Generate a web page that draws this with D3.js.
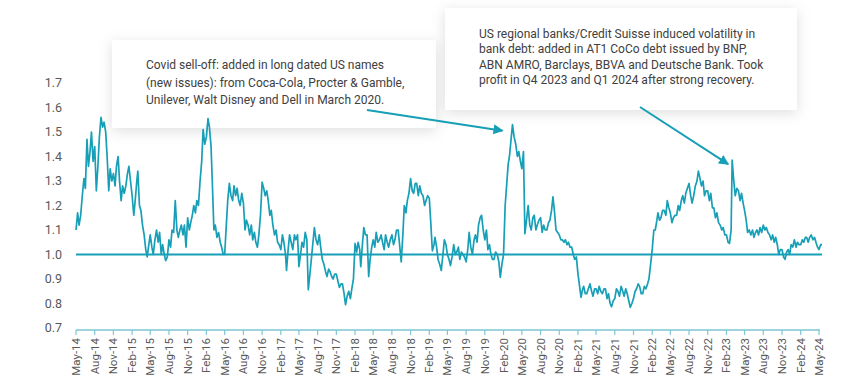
<!DOCTYPE html>
<html>
<head>
<meta charset="utf-8">
<script src="https://cdn.jsdelivr.net/npm/d3@7"></script>
<style>
  body { margin: 0; background: #fff; }
  #chart { width: 846px; height: 388px; }
  text { font-family: Roboto, "Noto Sans", sans-serif; }
</style>
</head>
<body>
<div id="chart"></div>
<script>
// weekly-ish readings (4 per month), May 2014 .. May 2024
const values = [
  1.10, 1.17, 1.12, 1.16, 1.24, 1.31, 1.27, 1.47, 1.36, 1.42, 1.50, 1.38, 1.44, 1.26, 1.35, 1.48, 1.56, 1.52, 1.54, 1.50, 1.40, 1.26, 1.35, 1.30,
  1.33, 1.28, 1.36, 1.40, 1.30, 1.22, 1.28, 1.25, 1.28, 1.33, 1.36, 1.30, 1.24, 1.16, 1.22, 1.30, 1.34, 1.20, 1.18, 1.12, 1.08, 1.02, 0.99, 1.04,
  1.08, 1.03, 1.00, 1.06, 1.10, 1.05, 1.09, 1.00, 1.04, 1.00, 0.975, 0.99, 1.06, 1.03, 1.10, 1.09, 1.22, 1.10, 1.07, 1.10, 1.12, 1.08, 1.12, 1.03,
  1.15, 1.10, 1.13, 1.16, 1.20, 1.17, 1.22, 1.20, 1.30, 1.38, 1.51, 1.45, 1.48, 1.555, 1.52, 1.44, 1.30, 1.10, 1.12, 1.07, 1.09, 1.05, 1.03, 1.00,
  1.00, 1.12, 1.22, 1.29, 1.24, 1.22, 1.28, 1.24, 1.27, 1.22, 1.20, 1.25, 1.21, 1.10, 1.14, 1.12, 1.08, 1.12, 1.06, 1.09, 1.05, 1.03, 1.08, 1.16,
  1.295, 1.27, 1.24, 1.26, 1.22, 1.16, 1.18, 1.12, 1.08, 1.10, 1.05, 1.04, 1.02, 1.08, 1.05, 1.00, 0.935, 1.02, 1.08, 1.05, 1.02, 1.08, 1.06, 1.08,
  0.95, 1.00, 1.05, 1.03, 1.09, 1.06, 0.856, 0.92, 0.98, 1.05, 1.11, 1.06, 1.04, 1.08, 1.03, 0.98, 0.96, 0.93, 0.91, 0.94, 0.93, 0.91, 0.90, 0.92,
  0.92, 0.89, 0.866, 0.88, 0.88, 0.84, 0.795, 0.83, 0.85, 0.82, 0.86, 0.90, 1.045, 1.01, 1.05, 1.02, 0.95, 1.04, 1.11, 1.08, 1.08, 0.91, 0.98, 1.03,
  1.06, 1.03, 1.09, 1.05, 1.06, 1.08, 1.05, 1.02, 1.08, 1.05, 1.03, 1.06, 1.08, 1.04, 1.06, 1.10, 1.10, 1.03, 0.97, 1.08, 1.20, 1.17, 1.22, 1.25,
  1.31, 1.26, 1.25, 1.29, 1.29, 1.24, 1.28, 1.25, 1.24, 1.20, 1.22, 1.24, 1.23, 1.12, 1.015, 1.04, 1.07, 1.03, 0.98, 0.96, 0.935, 1.00, 1.06, 1.04,
  1.00, 0.98, 0.955, 0.99, 1.04, 1.00, 1.01, 1.03, 0.98, 1.01, 1.00, 0.99, 0.97, 1.02, 1.09, 1.03, 1.00, 1.06, 1.08, 1.05, 1.12, 1.15, 1.16, 1.10,
  1.06, 1.10, 1.02, 1.04, 1.00, 0.98, 0.98, 1.01, 1.00, 0.97, 0.907, 0.96, 1.00, 1.20, 1.28, 1.37, 1.40, 1.47, 1.53, 1.48, 1.45, 1.40, 1.42, 1.38,
  1.35, 1.42, 1.085, 1.14, 1.20, 1.12, 1.10, 1.15, 1.16, 1.10, 1.12, 1.14, 1.15, 1.09, 1.12, 1.10, 1.10, 1.13, 1.14, 1.18, 1.235, 1.17, 1.10, 1.09,
  1.08, 1.06, 1.06, 1.05, 1.06, 1.04, 1.05, 1.03, 1.03, 1.00, 0.98, 0.99, 0.92, 0.87, 0.825, 0.86, 0.87, 0.84, 0.84, 0.86, 0.88, 0.85, 0.83, 0.86,
  0.86, 0.84, 0.87, 0.85, 0.84, 0.86, 0.86, 0.82, 0.84, 0.80, 0.787, 0.81, 0.82, 0.86, 0.85, 0.83, 0.87, 0.85, 0.83, 0.86, 0.84, 0.81, 0.784, 0.80,
  0.82, 0.85, 0.86, 0.88, 0.87, 0.84, 0.84, 0.87, 0.86, 0.88, 0.90, 0.96, 1.02, 1.10, 1.10, 1.14, 1.17, 1.14, 1.15, 1.18, 1.18, 1.16, 1.22, 1.19,
  1.17, 1.13, 1.15, 1.16, 1.16, 1.20, 1.18, 1.22, 1.24, 1.21, 1.25, 1.27, 1.29, 1.24, 1.21, 1.24, 1.28, 1.30, 1.34, 1.31, 1.28, 1.30, 1.24, 1.26,
  1.26, 1.22, 1.25, 1.19, 1.19, 1.15, 1.17, 1.13, 1.12, 1.10, 1.11, 1.08, 1.08, 1.05, 1.045, 1.10, 1.385, 1.30, 1.24, 1.27, 1.26, 1.22, 1.25, 1.21,
  1.18, 1.14, 1.09, 1.10, 1.08, 1.10, 1.07, 1.09, 1.10, 1.08, 1.11, 1.09, 1.12, 1.10, 1.11, 1.09, 1.08, 1.06, 1.08, 1.05, 1.07, 1.04, 1.00, 1.02,
  1.02, 0.99, 0.98, 1.01, 1.02, 1.00, 1.04, 1.03, 1.06, 1.03, 1.05, 1.04, 1.04, 1.06, 1.05, 1.07, 1.07, 1.05, 1.07, 1.08, 1.06, 1.07, 1.05, 1.03,
  1.02, 1.04, 1.04
];
const startDate = new Date(2014, 4, 1);
const endDate = new Date(2024, 4, 1);
const dates = values.map((v, i) =>
  d3.timeDay.offset(d3.timeMonth.offset(startDate, Math.floor(i / 4)), Math.round((i % 4) * 7.6)));

const yTicks = [0.7, 0.8, 0.9, 1.0, 1.1, 1.2, 1.3, 1.4, 1.5, 1.6, 1.7];
const xTicks = d3.timeMonth.range(startDate, d3.timeDay.offset(endDate, 1), 3);

const notes = [
  { lines: ["Covid sell-off: added in long dated US names",
            "(new issues): from Coca-Cola, Procter & Gamble,",
            "Unilever, Walt Disney and Dell in March 2020."],
    peak: new Date(2020, 2, 1) },
  { lines: ["US regional banks/Credit Suisse induced volatility in",
            "bank debt: added in AT1 CoCo debt issued by BNP,",
            "ABN AMRO, Barclays, BBVA and Deutsche Bank. Took",
            "profit in Q4 2023 and Q1 2024 after strong recovery."],
    peak: new Date(2023, 2, 1) }
];

const teal = "#169fb6";
const width = 846, height = 388;

const svg = d3.select("#chart").append("svg")
  .attr("width", width)
  .attr("height", height);

const defs = svg.append("defs");
const shadow = defs.append("filter").attr("id", "shadow")
  .attr("x", "-20%").attr("y", "-40%").attr("width", "140%").attr("height", "180%");
shadow.append("feDropShadow")
  .attr("dx", 0).attr("dy", 3)
  .attr("stdDeviation", 7)
  .attr("flood-color", "#000")
  .attr("flood-opacity", 0.13);

defs.append("marker")
  .attr("id", "arrow")
  .attr("viewBox", "0 0 10 10")
  .attr("refX", 9).attr("refY", 5)
  .attr("markerWidth", 5).attr("markerHeight", 5)
  .attr("orient", "auto")
  .append("path")
  .attr("d", "M0,0 L10,5 L0,10 z")
  .attr("fill", teal);

const x = d3.scaleTime().domain([startDate, endDate]).range([76, 819]);
const y = d3.scaleLinear().domain([0.7, 1.7]).range([328, 83]);

// y labels
svg.append("g").selectAll("text")
  .data(yTicks)
  .enter().append("text")
  .attr("x", 62)
  .attr("y", d => y(d))
  .attr("dy", "0.35em")
  .attr("text-anchor", "end")
  .attr("font-size", 12.5)
  .attr("fill", "#595959")
  .text(d => d.toFixed(1));

// x axis
const xAxis = svg.append("g").attr("transform", "translate(0,330)");
xAxis.append("line")
  .attr("x1", x(startDate)).attr("x2", x(endDate) + 1)
  .attr("stroke", "#7cc7d3").attr("stroke-width", 1.5);
xAxis.selectAll("line.tick")
  .data(xTicks)
  .enter().append("line")
  .attr("class", "tick")
  .attr("x1", d => x(d)).attr("x2", d => x(d))
  .attr("y1", 0).attr("y2", 5)
  .attr("stroke", "#7cc7d3").attr("stroke-width", 1.2);
xAxis.selectAll("text")
  .data(xTicks)
  .enter().append("text")
  .attr("transform", d => "translate(" + x(d) + ",8) rotate(-90)")
  .attr("dy", "0.35em")
  .attr("text-anchor", "end")
  .attr("font-size", 11.5)
  .attr("fill", "#595959")
  .text(d => d3.timeFormat("%b-%y")(d));

// annotation boxes (drawn under the series)
const boxes = [
  { x: 112, y: 40, w: 324, h: 88, tx: 146, ty: 69, lh: 17.6, from: [367, 110], off: [-10, 6] },
  { x: 445, y: 8, w: 352, h: 102, tx: 479, ty: 38, lh: 15.3, from: [640, 107], off: [-4, 4] }
];

notes.forEach((n, k) => {
  const b = boxes[k];
  const g = svg.append("g");
  g.append("rect")
    .attr("x", b.x).attr("y", b.y)
    .attr("width", b.w).attr("height", b.h)
    .attr("fill", "#fff")
    .attr("filter", "url(#shadow)");
  g.selectAll("text")
    .data(n.lines)
    .enter().append("text")
    .attr("x", b.tx)
    .attr("y", (d, i) => b.ty + i * b.lh)
    .attr("font-size", 12)
    .attr("fill", "#404040")
    .text(d => d);
});

// series
const line = d3.line()
  .x((d, i) => x(dates[i]))
  .y(d => y(d));
svg.append("path")
  .datum(values)
  .attr("d", line)
  .attr("fill", "none")
  .attr("stroke", teal)
  .attr("stroke-width", 1.7)
  .attr("stroke-linejoin", "round");

svg.append("line")
  .attr("x1", x(startDate)).attr("x2", x(dates[dates.length - 1]))
  .attr("y1", y(1)).attr("y2", y(1))
  .attr("stroke", teal).attr("stroke-width", 2);

// arrows to the highest reading near each event
notes.forEach((n, k) => {
  const b = boxes[k];
  const win = values.map((v, i) => ({ v, d: dates[i] }))
    .filter(p => Math.abs(p.d - n.peak) < 1000 * 3600 * 24 * 120);
  const top = win.reduce((a, p) => (p.v > a.v ? p : a));
  svg.append("line")
    .attr("x1", b.from[0]).attr("y1", b.from[1])
    .attr("x2", x(top.d) + b.off[0]).attr("y2", y(top.v) + b.off[1])
    .attr("stroke", teal)
    .attr("stroke-width", 2)
    .attr("marker-end", "url(#arrow)");
});
</script>
</body>
</html>
